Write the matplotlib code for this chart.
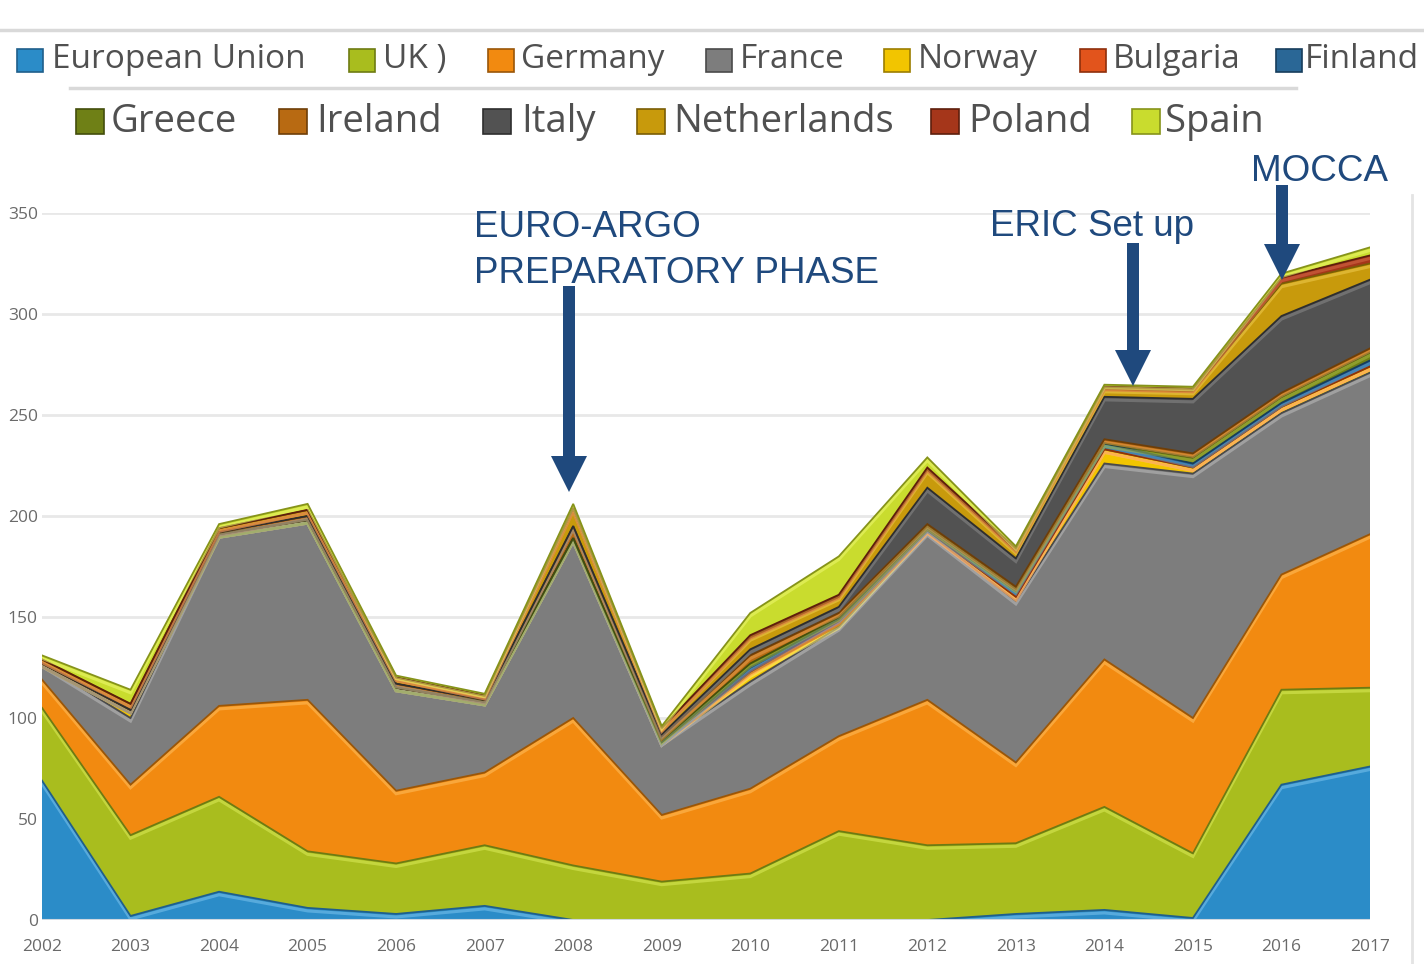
import matplotlib
matplotlib.use("Agg")
import matplotlib.pyplot as plt
import numpy as np
from matplotlib.patches import FancyArrow, Rectangle
from matplotlib.lines import Line2D
import matplotlib.patheffects as pe

# ---------------- data ----------------
years = list(range(2002, 2018))
series_names = ["European Union", "UK )", "Germany", "France", "Norway", "Bulgaria",
                "Finland", "Greece", "Ireland", "Italy", "Netherlands", "Poland", "Spain"]

eu          = [69, 2, 14, 6, 3, 7, 0, 0, 0, 0, 0, 3, 5, 1, 67, 76]
uk          = [36, 40, 47, 28, 25, 30, 27, 19, 23, 44, 37, 35, 51, 32, 47, 39]
germany     = [14, 25, 45, 75, 36, 36, 73, 33, 42, 47, 72, 40, 73, 67, 57, 76]
france      = [8, 33, 85, 89, 51, 35, 89, 36, 53, 54, 83, 80, 97, 121, 80, 80]
norway      = [0, 4, 0, 0, 0, 0, 0, 0, 4, 1, 1, 2, 7, 3, 3, 3]
bulgaria    = [0, 0, 0, 0, 0, 0, 0, 0, 1, 2, 0, 0, 0, 0, 0, 0]
finland     = [0, 0, 0, 0, 0, 0, 0, 0, 2, 1, 1, 3, 3, 2, 2, 3]
greece      = [0, 0, 0, 0, 0, 0, 0, 1, 2, 1, 1, 1, 0, 3, 3, 4]
ireland     = [0, 0, 1, 2, 2, 1, 6, 2, 4, 2, 1, 1, 2, 2, 2, 2]
italy       = [0, 0, 0, 0, 0, 0, 0, 1, 3, 3, 18, 14, 21, 27, 38, 34]
netherlands = [2, 3, 2, 3, 3, 2, 9, 3, 6, 5, 9, 4, 4, 4, 16, 8]
poland      = [0, 0, 0, 0, 0, 0, 0, 0, 1, 1, 1, 1, 1, 1, 3, 4]
spain       = [2, 7, 2, 3, 1, 1, 2, 1, 11, 19, 5, 1, 1, 1, 2, 4]

series_values = [eu, uk, germany, france, norway, bulgaria, finland, greece,
                 ireland, italy, netherlands, poland, spain]

y_ticks = [0, 50, 100, 150, 200, 250, 300, 350]

annotations = ["EURO-ARGO", "PREPARATORY PHASE", "ERIC Set up", "MOCCA"]

# ---------------- style ----------------
face_colors = ["#2b8cc8", "#a9bd1e", "#f28a10", "#7d7d7d", "#f2c500", "#e2541c",
               "#2a6796", "#6f8016", "#b86a12", "#525252", "#c89a0c", "#a5361a", "#c9dc2e"]
edge_colors = ["#1f5f8b", "#6e7b12", "#9a5608", "#4a4a4a", "#9c7e00", "#8f2f0c",
               "#173d5c", "#434e0c", "#6e3e08", "#2e2e2e", "#7a5d05", "#5e1e0c", "#86931a"]
light_colors = ["#7cc4ee", "#dceb5a", "#ffc060", "#bdbdbd", "#fff07a", "#ff9060",
                "#5c9bd0", "#a8b840", "#e8a050", "#8a8a8a", "#f0cc50", "#d86a4a", "#eef870"]

W, H = 1424, 964
fig = plt.figure(figsize=(W / 100, H / 100), dpi=100)
fig.patch.set_facecolor("white")

ax = fig.add_axes([42 / W, 1 - 920 / H, (1370 - 42) / W, (920 - 213) / H])
ax.set_xlim(years[0], years[-1])
ax.set_ylim(0, 350)
for s in ax.spines.values():
    s.set_visible(False)
ax.set_yticks(y_ticks)
ax.set_xticks(years)
ax.tick_params(axis="both", length=0, labelsize=12.5, labelcolor="#6a6a6a")
ax.tick_params(axis="y", pad=3)
ax.tick_params(axis="x", pad=14)
for lab in ax.get_xticklabels() + ax.get_yticklabels():
    lab.set_fontfamily("Open Sans")
ax.grid(axis="y", color="#e8e8e8", lw=2.0)
ax.set_axisbelow(True)

vals = np.array(series_values, dtype=float)
cum = np.cumsum(vals, axis=0)
base = np.zeros(len(years))
for i in range(len(series_names)):
    top = cum[i]
    ax.fill_between(years, base, top, facecolor=face_colors[i], edgecolor="none",
                    linewidth=0, zorder=2 + i * 0.01)
    base = top

for i in range(len(series_names)):
    if vals[i].sum() == 0:
        continue
    ax.plot(years, cum[i], color=edge_colors[i], lw=1.3, zorder=3 + i * 0.01,
            solid_joinstyle="miter",
            path_effects=[pe.SimpleLineShadow(offset=(0, -2.2), shadow_color=light_colors[i],
                                              alpha=0.55, linewidth=2.2),
                          pe.Normal()])

ax.axhline(0, color="#d0d8e0", lw=1.5, zorder=5)

# ---------------- decorations ----------------
def fy(py):
    return 1 - py / H

fig.add_artist(Line2D([0, 1], [fy(30), fy(30)], color="#d9d9d9", lw=2.5,
                      transform=fig.transFigure))
fig.add_artist(Line2D([70 / W, 1296 / W], [fy(88), fy(88)], color="#d9d9d9", lw=2.5,
                      transform=fig.transFigure))
fig.add_artist(Line2D([1412 / W, 1412 / W], [fy(195), 0], color="#e4e4e4", lw=2,
                      transform=fig.transFigure))

# legend (two rows, built manually)
row1 = [(17, 52), (349, 383), (488, 521), (706, 740), (884, 918), (1080, 1113), (1276, 1305)]
row2 = [(76, 111), (279, 316), (483, 521), (637, 673), (931, 968), (1132, 1165)]
for k, (sq, tx) in enumerate(row1):
    fig.add_artist(Rectangle((sq / 100, (H - 72) / 100), 0.26, 0.23,
                             facecolor=face_colors[k], edgecolor=edge_colors[k], lw=1.2,
                             transform=fig.dpi_scale_trans))
    fig.text(tx / W, fy(68), series_names[k], fontsize=24, family="Open Sans",
             color="#505050", va="baseline", ha="left")
for j, (sq, tx) in enumerate(row2):
    k = j + len(row1)
    fig.add_artist(Rectangle((sq / 100, (H - 134) / 100), 0.28, 0.25,
                             facecolor=face_colors[k], edgecolor=edge_colors[k], lw=1.2,
                             transform=fig.dpi_scale_trans))
    fig.text(tx / W, fy(132), series_names[k], fontsize=27.5, family="Open Sans",
             color="#505050", va="baseline", ha="left")

# annotations
ann_color = "#1f497d"
fig.text(474 / W, fy(237), annotations[0], fontsize=26.5, family="Liberation Sans",
         color=ann_color, va="baseline")
fig.text(474 / W, fy(283), annotations[1], fontsize=26.5, family="Liberation Sans",
         color=ann_color, va="baseline")
fig.text(990 / W, fy(236), annotations[2], fontsize=26.5, family="Liberation Sans",
         color=ann_color, va="baseline")
fig.text(1251 / W, fy(181), annotations[3], fontsize=26.5, family="Liberation Sans",
         color=ann_color, va="baseline")

def arrow(x, y0, y1):
    fig.add_artist(FancyArrow(x / 100, (H - y0) / 100, 0, -(y1 - y0) / 100,
                              width=0.12, head_width=0.36, head_length=0.36,
                              length_includes_head=True, color=ann_color, lw=0,
                              transform=fig.dpi_scale_trans))

arrow(569, 286, 492)
arrow(1133, 243, 386)
arrow(1282, 185, 280)

fig.savefig("out.png", dpi=100)
